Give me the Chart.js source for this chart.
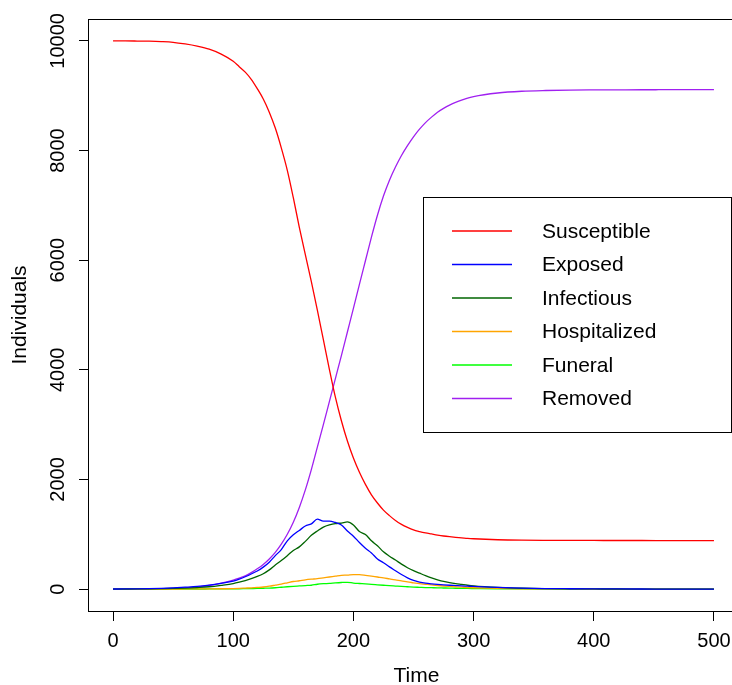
<!DOCTYPE html>
<html>
<head>
<meta charset="utf-8">
<script src="https://cdn.jsdelivr.net/npm/chart.js@4/dist/chart.umd.min.js"></script>
<style>
html, body { margin: 0; padding: 0; background: #fff; overflow: hidden; }
#wrap { width: 732px; height: 685px; overflow: hidden; }
</style>
</head>
<body>
<div id="wrap"><canvas id="chart" width="750" height="685"></canvas></div>
<script>
// time points (finer steps around the epidemic peak)
const time = [0, 10, 20, 30, 40, 50, 60, 70, 80, 90, 100,
  105, 110, 115, 120, 125, 130, 135, 140, 145, 150, 155, 160, 165, 170, 175, 180, 185, 190, 195, 200,
  205, 210, 215, 220, 225, 230, 235, 240, 245, 250, 255, 260, 265, 270, 275, 280, 285, 290, 295, 300,
  320, 340, 360, 380, 400, 420, 440, 460, 480, 500];

const susceptible = [10000, 10000, 9998, 9995, 9988, 9975, 9945, 9905, 9850, 9760, 9630,
  9530, 9430, 9300, 9130, 8940, 8700, 8410, 8050, 7640, 7140, 6600, 6100, 5610, 5090, 4550, 4010, 3500, 3070, 2700, 2390,
  2130, 1910, 1720, 1570, 1440, 1340, 1250, 1180, 1125, 1080, 1050, 1025, 1005, 985, 968, 955, 944, 935, 925, 918,
  900, 892, 889, 888, 887, 886, 886, 885, 885, 885];

const exposed = [1, 2, 4, 8, 14, 22, 34, 48, 72, 105, 145,
  180, 225, 275, 330, 400, 490, 610, 720, 880, 990, 1070, 1150, 1190, 1275, 1240, 1240, 1215, 1170, 1060, 965,
  850, 745, 660, 550, 480, 405, 335, 265, 205, 158, 128, 108, 95, 85, 77, 70, 64, 58, 53, 48,
  30, 18, 10, 6, 3, 2, 1, 0, 0, 0];

const infectious = [0, 1, 2, 4, 7, 11, 18, 28, 42, 68, 100,
  125, 155, 190, 230, 280, 350, 440, 520, 610, 705, 770, 870, 980, 1060, 1130, 1170, 1195, 1205, 1225, 1170,
  1050, 995, 880, 790, 680, 600, 530, 455, 390, 335, 290, 245, 205, 170, 140, 118, 100, 85, 70, 58,
  30, 15, 8, 4, 2, 1, 0, 0, 0, 0];

const hospitalized = [0, 0, 0, 0, 1, 1, 2, 3, 4, 6, 10,
  13, 18, 23, 30, 38, 52, 72, 92, 115, 138, 152, 168, 180, 190, 205, 220, 235, 250, 255, 265,
  262, 250, 236, 220, 205, 185, 166, 150, 130, 115, 100, 88, 76, 65, 56, 48, 41, 35, 29, 24,
  12, 6, 3, 2, 1, 0, 0, 0, 0, 0];

const funeral = [0, 0, 0, 0, 0, 0, 1, 1, 2, 3, 5,
  6, 8, 10, 12, 15, 18, 24, 33, 42, 50, 57, 64, 70, 88, 98, 104, 113, 120, 124, 110,
  102, 95, 86, 78, 70, 62, 55, 48, 42, 36, 32, 28, 25, 22, 20, 18, 15, 13, 11, 10,
  6, 3, 2, 1, 0, 0, 0, 0, 0, 0];

const removed = [0, 0, 2, 5, 9, 14, 23, 37, 65, 110, 165,
  200, 240, 300, 370, 450, 550, 670, 820, 1000, 1220, 1490, 1810, 2180, 2590, 3000, 3420, 3840, 4260, 4690, 5120,
  5560, 5990, 6420, 6820, 7170, 7460, 7700, 7910, 8090, 8250, 8390, 8510, 8610, 8700, 8770, 8830, 8880, 8920, 8955, 8985,
  9050, 9082, 9096, 9103, 9106, 9108, 9109, 9110, 9110, 9110];

const seriesNames = ['Susceptible', 'Exposed', 'Infectious', 'Hospitalized', 'Funeral', 'Removed'];
const seriesData = [susceptible, exposed, infectious, hospitalized, funeral, removed];
const seriesColors = ['#ff0000', '#0000ff', '#006400', '#ffa500', '#00ff00', '#a020f0'];

const xTicks = [0, 100, 200, 300, 400, 500];
const yTicks = [0, 2000, 4000, 6000, 8000, 10000];

const FONT = '"Liberation Sans", Arial, Helvetica, sans-serif';

// box, rotated y labels, axis titles and the legend, R style
const rStyle = {
  id: 'rStyle',
  afterDraw(chart) {
    const { ctx, chartArea: a, scales: { y } } = chart;
    ctx.save();
    ctx.strokeStyle = '#000';
    ctx.lineWidth = 1;
    ctx.strokeRect(Math.round(a.left) - 0.5, Math.round(a.top) + 0.5,
      Math.round(a.right - a.left), Math.round(a.bottom - a.top));

    ctx.fillStyle = '#000';
    ctx.font = '20px ' + FONT;
    ctx.textAlign = 'center';
    ctx.textBaseline = 'middle';
    y.ticks.forEach(t => {
      ctx.save();
      ctx.translate(58, y.getPixelForValue(t.value));
      ctx.rotate(-Math.PI / 2);
      ctx.fillText(String(t.value), 0, 0);
      ctx.restore();
    });

    ctx.font = '21px ' + FONT;
    ctx.save();
    ctx.translate(20, (a.top + a.bottom) / 2);
    ctx.rotate(-Math.PI / 2);
    ctx.fillText('Individuals', 0, 0);
    ctx.restore();
    ctx.fillText('Time', (a.left + a.right) / 2 + 3, 676);

    // legend
    ctx.strokeStyle = '#000';
    ctx.strokeRect(423.5, 197.5, 308, 235);
    ctx.textAlign = 'left';
    seriesNames.forEach((name, i) => {
      const yy = 231 + i * 33.5;
      ctx.strokeStyle = seriesColors[i];
      ctx.lineWidth = 1.3;
      ctx.beginPath();
      ctx.moveTo(452, yy);
      ctx.lineTo(512, yy);
      ctx.stroke();
      ctx.fillText(name, 542, yy + 1);
    });
    ctx.restore();
  }
};

new Chart(document.getElementById('chart'), {
  type: 'line',
  data: {
    datasets: seriesNames.map((name, i) => ({
      label: name,
      data: time.map((t, j) => ({ x: t, y: seriesData[i][j] })),
      borderColor: seriesColors[i],
      borderWidth: 1.3,
      pointRadius: 0,
      fill: false,
      cubicInterpolationMode: 'monotone'
    }))
  },
  options: {
    responsive: false,
    animation: false,
    layout: { padding: { top: 19, right: 12, left: 0, bottom: 0 } },
    plugins: { legend: { display: false }, tooltip: { enabled: false } },
    scales: {
      x: {
        type: 'linear',
        min: -20,
        max: 520,
        afterBuildTicks: s => { s.ticks = xTicks.map(v => ({ value: v })); },
        afterFit: s => { s.height = 74; },
        grid: { drawOnChartArea: false, drawTicks: true, tickLength: 10, color: '#000', lineWidth: 1 },
        border: { display: false },
        ticks: { color: '#000', font: { family: FONT, size: 20 }, padding: 8, maxRotation: 0, autoSkip: false }
      },
      y: {
        min: -400,
        max: 10400,
        afterBuildTicks: s => { s.ticks = yTicks.map(v => ({ value: v })); },
        afterFit: s => { s.width = 89; },
        grid: { drawOnChartArea: false, drawTicks: true, tickLength: 10, color: '#000', lineWidth: 1 },
        border: { display: false },
        ticks: { display: false }
      }
    }
  },
  plugins: [rStyle]
});
</script>
</body>
</html>
